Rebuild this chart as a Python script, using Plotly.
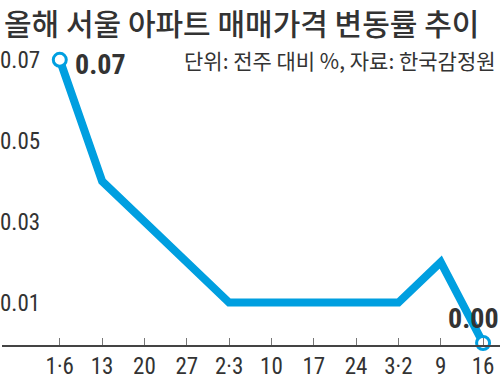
import plotly.graph_objects as go

weeks = ["1·6", "13", "20", "27", "2·3", "10", "17", "24", "3·2", "9", "16"]
rates = [0.07, 0.04, 0.03, 0.02, 0.01, 0.01, 0.01, 0.01, 0.01, 0.02, 0.00]
y_ticks = [0.01, 0.03, 0.05, 0.07]
y_tick_labels = ["0.01", "0.03", "0.05", "0.07"]
title_text = "올해 서울 아파트 매매가격 변동률 추이"
subtitle_text = "단위: 전주 대비 %, 자료: 한국감정원"

BLUE = "#009fe0"
NARROW = "Liberation Sans Narrow, Arial Narrow, Roboto Condensed, sans-serif"
KR = "Noto Sans CJK KR"

fig = go.Figure()
fig.add_trace(go.Scatter(
    x=weeks, y=rates, mode="lines",
    line=dict(color=BLUE, width=8), cliponaxis=False, hoverinfo="skip"))
end_idx = [0, len(weeks) - 1]
fig.add_trace(go.Scatter(
    x=[weeks[i] for i in end_idx], y=[rates[i] for i in end_idx], mode="markers",
    marker=dict(size=13, color="white", line=dict(color=BLUE, width=3)),
    cliponaxis=False, hoverinfo="skip"))

PT, PB = 40, 346
H = PB - PT

def py(pix):
    return (PB - pix) / H

last = len(weeks) - 1
ann = [
    dict(x=0, y=py(22), xref="paper", yref="paper", xanchor="left", yanchor="middle",
         text=title_text, showarrow=False,
         font=dict(family=KR, size=30, color="#333333", weight=500)),
    dict(x=498 / 500, y=py(60), xref="paper", yref="paper", xanchor="right", yanchor="middle",
         text=subtitle_text, showarrow=False, font=dict(family=KR, size=21, color="#333333")),
    dict(x=0, y=rates[0], xref="x", yref="y", xanchor="left", yanchor="middle",
         xshift=13, yshift=-5, text="<b>0.07</b>", showarrow=False,
         font=dict(family=NARROW, size=28, color="#333333")),
    dict(x=last, y=rates[last], xref="x", yref="y", xanchor="center", yanchor="middle",
         xshift=-10, yshift=24, text="<b>0.00</b>", showarrow=False,
         font=dict(family=NARROW, size=28, color="#333333")),
]

fig.update_layout(
    width=500, height=380,
    margin=dict(l=0, r=0, t=PT, b=380 - PB),
    paper_bgcolor="white", plot_bgcolor="white",
    showlegend=False,
    annotations=ann,
    xaxis=dict(
        type="category", range=[-1.365, 10.4],
        showgrid=False, zeroline=False,
        showline=True, linecolor="#444444", linewidth=1.5,
        ticks="inside", ticklen=7, tickcolor="#777777", tickwidth=1,
        tickfont=dict(family=NARROW, size=23, color="#333333"),
    ),
    yaxis=dict(
        range=[-0.0005, 0.0749],
        showgrid=False, zeroline=False, showline=False,
        tickvals=y_ticks, ticktext=y_tick_labels,
        ticklabelposition="inside", ticks="", ticklabelstandoff=-5,
        tickfont=dict(family=NARROW, size=23, color="#333333"),
    ),
)

fig.write_html("out.html", config={"displayModeBar": False},
               post_script="document.body.style.margin='0';")
